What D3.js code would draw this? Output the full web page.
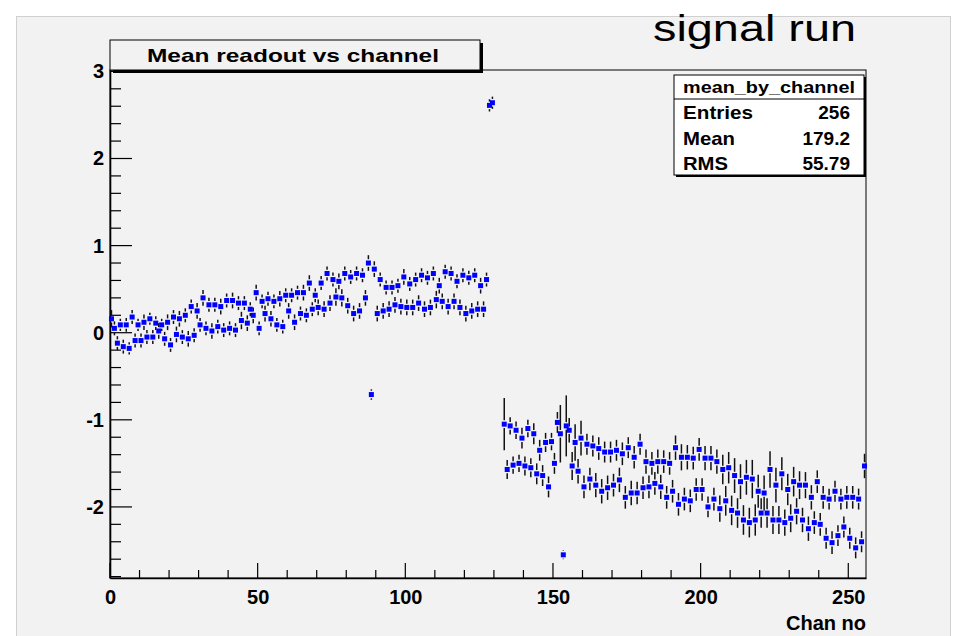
<!DOCTYPE html>
<html>
<head>
<meta charset="utf-8">
<script src="https://cdn.jsdelivr.net/npm/d3@7"></script>
<style>
  html, body { margin: 0; padding: 0; background: #ffffff; }
  svg { display: block; }
  text { font-family: "Liberation Sans", Arial, Helvetica, sans-serif; }
</style>
</head>
<body>
<svg id="chart" width="963" height="636"></svg>
<script>
// ---------------- data ----------------
const chartTitle = "Mean readout vs channel";
const cornerLabel = "signal run";
const xAxisLabel = "Chan no";
const xTicks = [0, 50, 100, 150, 200, 250];
const yTicks = [-2, -1, 0, 1, 2, 3];
const statsTitle = "mean_by_channel";
const statsLabels = ["Entries", "Mean", "RMS"];
const statsValues = ["256", "179.2", "55.79"];

// mean readout per channel (channel i -> bin centre i + 0.5); null = empty bin
const meanValues = [
  0.16, 0.05, -0.12, 0.09, -0.16, 0.09, -0.18, 0.18, -0.09, 0.09,
  -0.09, 0.12, -0.05, 0.16, -0.05, 0.11, 0.02, 0.09, -0.07, 0.12,
  -0.14, 0.18, -0.02, 0.16, -0.05, 0.20, -0.07, 0.30, -0.03, 0.25,
  0.09, 0.40, 0.05, 0.32, 0.02, 0.32, 0.07, 0.30, 0.03, 0.37,
  0.05, 0.37, 0.03, 0.34, 0.14, 0.34, 0.11, 0.27, 0.20, 0.46,
  0.05, 0.36, 0.22, 0.39, 0.16, 0.36, 0.09, 0.39, 0.07, 0.43,
  0.25, 0.43, 0.12, 0.46, 0.22, 0.46, 0.20, 0.57, 0.27, 0.43,
  0.29, 0.57, 0.27, 0.68, 0.34, 0.61, 0.41, 0.59, 0.40, 0.68,
  0.31, 0.64, 0.22, 0.68, 0.25, 0.66, 0.40, 0.80, -0.71, 0.73,
  0.22, 0.61, 0.25, 0.52, 0.27, 0.52, 0.32, 0.54, 0.30, 0.64,
  0.29, 0.56, 0.29, 0.61, 0.34, 0.66, 0.27, 0.63, 0.29, 0.68,
  0.38, 0.54, 0.36, 0.70, 0.30, 0.68, 0.36, 0.59, 0.29, 0.66,
  0.22, 0.63, 0.25, 0.66, 0.27, 0.54, 0.27, 0.61, 2.61, 2.64,
  null, null, null, -1.05, -1.57, -1.07, -1.52, -1.12, -1.50, -1.21,
  -1.53, -1.10, -1.55, -1.16, -1.62, -1.35, -1.64, -1.26, -1.77, -1.25,
  -1.50, -1.03, -1.16, -2.55, -1.07, -1.12, -1.53, -1.26, -1.59, -1.21,
  -1.77, -1.28, -1.68, -1.30, -1.75, -1.33, -1.82, -1.37, -1.78, -1.37,
  -1.75, -1.35, -1.69, -1.39, -1.89, -1.32, -1.84, -1.43, -1.84, -1.28,
  -1.78, -1.48, -1.77, -1.50, -1.73, -1.48, -1.77, -1.48, -1.89, -1.50,
  -1.82, -1.32, -1.97, -1.43, -1.91, -1.43, -1.93, -1.44, -1.80, -1.34,
  -1.80, -1.44, -2.00, -1.44, -1.91, -1.48, -2.02, -1.57, -1.93, -1.55,
  -2.04, -1.64, -2.07, -1.71, -2.15, -1.66, -2.18, -1.68, -2.15, -1.82,
  -2.07, -1.84, -2.07, -1.57, -2.15, -1.75, -2.15, -1.62, -2.18, -1.80,
  -2.13, -1.71, -2.05, -1.75, -2.15, -1.75, -2.25, -1.89, -2.18, -1.71,
  -2.20, -1.89, -2.36, -1.91, -2.41, -1.82, -2.33, -1.91, -2.23, -1.89,
  -2.36, -1.89, -2.47, -1.91, -2.40, -1.53
];

// error (half length of the vertical error bar) per channel
const errValues = [
  0.10, 0.08, 0.08, 0.07, 0.08, 0.08, 0.07, 0.08, 0.08, 0.07,
  0.08, 0.09, 0.08, 0.07, 0.08, 0.08, 0.09, 0.07, 0.08, 0.09,
  0.08, 0.08, 0.09, 0.09, 0.08, 0.08, 0.09, 0.08, 0.08, 0.09,
  0.08, 0.09, 0.08, 0.08, 0.09, 0.08, 0.08, 0.09, 0.08, 0.08,
  0.08, 0.09, 0.08, 0.08, 0.10, 0.08, 0.09, 0.08, 0.09, 0.09,
  0.08, 0.08, 0.09, 0.08, 0.09, 0.08, 0.08, 0.09, 0.08, 0.08,
  0.09, 0.08, 0.09, 0.08, 0.08, 0.09, 0.08, 0.09, 0.08, 0.08,
  0.09, 0.08, 0.09, 0.08, 0.09, 0.08, 0.10, 0.09, 0.10, 0.08,
  0.09, 0.08, 0.09, 0.08, 0.09, 0.08, 0.09, 0.09, 0.06, 0.09,
  0.09, 0.08, 0.09, 0.08, 0.09, 0.08, 0.09, 0.08, 0.09, 0.09,
  0.09, 0.08, 0.09, 0.08, 0.09, 0.08, 0.09, 0.08, 0.09, 0.08,
  0.10, 0.09, 0.09, 0.08, 0.09, 0.08, 0.09, 0.08, 0.09, 0.08,
  0.09, 0.08, 0.09, 0.08, 0.09, 0.09, 0.09, 0.08, 0.07, 0.07,
  0, 0, 0, 0.30, 0.11, 0.10, 0.10, 0.10, 0.10, 0.12,
  0.11, 0.10, 0.11, 0.12, 0.12, 0.12, 0.12, 0.11, 0.12, 0.10,
  0.12, 0.12, 0.33, 0.05, 0.35, 0.14, 0.16, 0.21, 0.14, 0.20,
  0.13, 0.12, 0.13, 0.12, 0.14, 0.13, 0.14, 0.12, 0.14, 0.12,
  0.13, 0.12, 0.14, 0.13, 0.13, 0.12, 0.14, 0.13, 0.13, 0.12,
  0.13, 0.14, 0.13, 0.13, 0.13, 0.14, 0.14, 0.13, 0.13, 0.13,
  0.13, 0.14, 0.13, 0.15, 0.13, 0.14, 0.13, 0.13, 0.13, 0.13,
  0.13, 0.14, 0.12, 0.14, 0.13, 0.14, 0.15, 0.17, 0.17, 0.18,
  0.17, 0.20, 0.17, 0.20, 0.17, 0.20, 0.17, 0.22, 0.18, 0.19,
  0.17, 0.20, 0.17, 0.21, 0.16, 0.20, 0.16, 0.19, 0.15, 0.18,
  0.16, 0.17, 0.15, 0.16, 0.14, 0.15, 0.14, 0.14, 0.13, 0.13,
  0.13, 0.13, 0.12, 0.12, 0.13, 0.12, 0.12, 0.12, 0.12, 0.13,
  0.12, 0.13, 0.12, 0.12, 0.12, 0.14
];

// ---------------- drawing ----------------
const svg = d3.select("#chart");
const W = 963, H = 636;
const bg = "#f2f2f2";
const fmtInt = d => String(d).replace("\u2212", "-");

// canvas background
svg.append("rect").attr("x", 0).attr("y", 0).attr("width", W).attr("height", H).attr("fill", "#ffffff");
svg.append("rect").attr("x", 16.5).attr("y", 16.5).attr("width", 934).attr("height", H - 16)
  .attr("fill", bg).attr("stroke", "#d0d0d0").attr("stroke-width", 1);

const frame = { left: 110, right: 866, top: 70, bottom: 578 };

const x = d3.scaleLinear().domain([0, 256]).range([frame.left, frame.right]);
const y = d3.scaleLinear().domain([-2.816, 3.016]).range([frame.bottom, frame.top]);

// frame
svg.append("rect")
  .attr("x", frame.left).attr("y", frame.top)
  .attr("width", frame.right - frame.left).attr("height", frame.bottom - frame.top)
  .attr("fill", bg).attr("stroke", "#000").attr("stroke-width", 1);

// axes ticks (ROOT style: inside ticks)
const xMinor = d3.range(0, 256, 10).filter(v => v % 50 !== 0);
const yMinor = d3.range(-28, 31, 2).map(v => v / 10).filter(v => Math.abs(v - Math.round(v)) > 1e-9);

const xAxis = d3.axisBottom(x).tickValues(xTicks).tickSize(0).tickPadding(8).tickFormat(fmtInt);
const gx = svg.append("g").attr("transform", `translate(0,${frame.bottom})`).call(xAxis);
gx.select(".domain").attr("stroke", "#000").attr("stroke-width", 1.6);
gx.selectAll("text").attr("font-size", 20).attr("font-weight", "bold").attr("fill", "#000")
  .attr("dy", "0.92em");

const yAxis = d3.axisLeft(y).tickValues(yTicks).tickSize(0).tickPadding(6).tickFormat(fmtInt);
const gy = svg.append("g").attr("transform", `translate(${frame.left},0)`).call(yAxis);
gy.select(".domain").attr("stroke", "#000").attr("stroke-width", 1.6);
gy.selectAll("text").attr("font-size", 20).attr("font-weight", "bold").attr("fill", "#000");

// tick marks
const tickG = svg.append("g").attr("stroke", "#000").attr("stroke-width", 1.2);
tickG.selectAll(".xmaj").data(xTicks).join("line")
  .attr("x1", d => x(d)).attr("x2", d => x(d))
  .attr("y1", frame.bottom).attr("y2", frame.bottom - 15);
tickG.selectAll(".xmin").data(xMinor).join("line")
  .attr("x1", d => x(d)).attr("x2", d => x(d))
  .attr("y1", frame.bottom).attr("y2", frame.bottom - 8);
tickG.selectAll(".ymaj").data(yTicks).join("line")
  .attr("x1", frame.left).attr("x2", frame.left + 22)
  .attr("y1", d => y(d)).attr("y2", d => y(d));
tickG.selectAll(".ymin").data(yMinor).join("line")
  .attr("x1", frame.left).attr("x2", frame.left + 11)
  .attr("y1", d => y(d)).attr("y2", d => y(d));

// data points
const pts = meanValues.map((v, i) => ({ ch: i + 0.5, v, e: errValues[i] })).filter(d => d.v !== null);
const half = 2.5, gap = 3.8;

const errG = svg.append("g").attr("stroke", "#111").attr("stroke-width", 1.5);
pts.forEach(d => {
  const cx = x(d.ch), cy = y(d.v);
  const top = y(d.v + d.e), bot = y(d.v - d.e);
  if (cy - gap > top) errG.append("line").attr("x1", cx).attr("x2", cx).attr("y1", top).attr("y2", cy - gap);
  if (bot > cy + gap) errG.append("line").attr("x1", cx).attr("x2", cx).attr("y1", cy + gap).attr("y2", bot);
});

svg.append("g").selectAll("rect").data(pts).join("rect")
  .attr("x", d => x(d.ch) - half).attr("y", d => y(d.v) - half)
  .attr("width", half * 2).attr("height", half * 2)
  .attr("fill", "#0000ff");

// title box
const tb = { x: 110, y: 40, w: 370, h: 30 };
svg.append("rect").attr("x", tb.x + 3).attr("y", tb.y + 3).attr("width", tb.w).attr("height", tb.h).attr("fill", "#000");
svg.append("rect").attr("x", tb.x).attr("y", tb.y).attr("width", tb.w).attr("height", tb.h)
  .attr("fill", bg).attr("stroke", "#000").attr("stroke-width", 1);
svg.append("text").attr("x", tb.x + tb.w / 2 - 2).attr("y", tb.y + 22).attr("text-anchor", "middle")
  .attr("font-size", 19).attr("font-weight", "bold").attr("textLength", 292).attr("lengthAdjust", "spacingAndGlyphs")
  .text(chartTitle);

// stats box
const sb = { x: 674, y: 75, w: 190, h: 100, titleH: 24 };
svg.append("rect").attr("x", sb.x + 2).attr("y", sb.y + 2).attr("width", sb.w).attr("height", sb.h).attr("fill", "#000");
svg.append("rect").attr("x", sb.x).attr("y", sb.y).attr("width", sb.w).attr("height", sb.h)
  .attr("fill", "#ffffff").attr("stroke", "#000").attr("stroke-width", 1);
svg.append("line").attr("x1", sb.x).attr("x2", sb.x + sb.w).attr("y1", sb.y + sb.titleH).attr("y2", sb.y + sb.titleH)
  .attr("stroke", "#000").attr("stroke-width", 1);
svg.append("text").attr("x", sb.x + sb.w / 2).attr("y", sb.y + 18).attr("text-anchor", "middle")
  .attr("font-size", 17).attr("font-weight", "bold").attr("textLength", 172).attr("lengthAdjust", "spacingAndGlyphs")
  .text(statsTitle);
const statsLabelW = [70, 52, 45];
statsLabels.forEach((lab, i) => {
  const by = sb.y + sb.titleH + 20 + i * 25.5;
  svg.append("text").attr("x", sb.x + 9).attr("y", by).attr("font-size", 19).attr("font-weight", "bold")
    .attr("textLength", statsLabelW[i]).attr("lengthAdjust", "spacingAndGlyphs").text(lab);
  svg.append("text").attr("x", sb.x + sb.w - 14).attr("y", by).attr("text-anchor", "end")
    .attr("font-size", 19).attr("font-weight", "bold").text(statsValues[i]);
});

// axis title
svg.append("text").attr("x", frame.right).attr("y", 630).attr("text-anchor", "end")
  .attr("font-size", 20).attr("font-weight", "bold").text(xAxisLabel);

// corner label
svg.append("text").attr("x", 856).attr("y", 41).attr("text-anchor", "end")
  .attr("font-size", 37).attr("textLength", 203).attr("lengthAdjust", "spacingAndGlyphs").text(cornerLabel);
</script>
</body>
</html>
